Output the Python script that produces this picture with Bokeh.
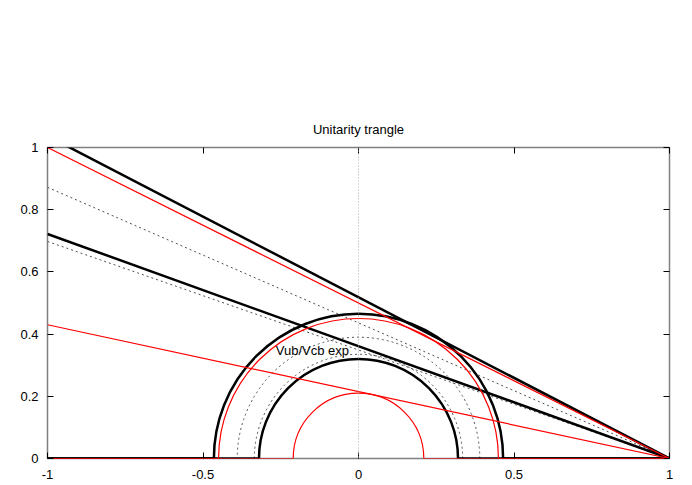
import numpy as np
from bokeh.plotting import figure
from bokeh.models import Range1d, LinearAxis, FixedTicker, Span
from bokeh.embed import file_html
from bokeh.resources import INLINE
from bokeh.core.properties import value

# ---------------- data ----------------
x_ticks = [-1, -0.5, 0, 0.5, 1]
x_tick_labels = ["-1", "-0.5", "0", "0.5", "1"]
y_ticks = [0, 0.2, 0.4, 0.6, 0.8, 1]
y_tick_labels = ["0", "0.2", "0.4", "0.6", "0.8", "1"]

apex_x = 1.0          # every straight line ends at (1, 0)
apex_y = 0.0
# height of each straight line at x = -1
black_line_y_at_m1 = [1.037, 0.722]
red_line_y_at_m1 = [1.0, 0.43]
dotted_line_y_at_m1 = [0.872, 0.698]

# radii of the Vub/Vcb circles centred at (0, 0)
black_radii = [0.465, 0.32]
red_radii = [0.45, 0.21]
dotted_radii = [0.39, 0.335]

label_text = "Vub/Vcb exp"
label_x = [-0.266]
label_y = [0.347]
title_text = "Unitarity trangle"

FONT = "Liberation Sans"
FS = "13px"

p = figure(width=684, height=485,
           x_range=Range1d(-1, 1), y_range=Range1d(0, 1),
           output_backend="svg", toolbar_location=None,
           min_border_left=47, min_border_right=15,
           min_border_top=147, min_border_bottom=27)

p.grid.visible = False
p.outline_line_color = "#808080"
p.outline_line_width = 1.5
p.background_fill_color = "white"
p.border_fill_color = "white"

p.title.text = title_text
p.title.align = "center"
p.title.text_font = FONT
p.title.text_font_size = FS
p.title.text_font_style = "normal"
p.title.text_color = "black"
p.title.standoff = 22


def style_axis(ax, ticks, labels, show_labels, standoff=8):
    ax.ticker = FixedTicker(ticks=ticks, minor_ticks=[])
    ax.major_tick_in = 6
    ax.major_tick_out = 0
    ax.minor_tick_in = 0
    ax.minor_tick_out = 0
    ax.axis_line_color = None
    ax.major_tick_line_color = "black"
    ax.major_tick_line_width = 1
    ax.major_label_text_font = FONT
    ax.major_label_text_color = "black"
    ax.major_label_text_font_size = FS
    if show_labels:
        ax.major_label_overrides = {t: l for t, l in zip(ticks, labels)}
        ax.major_label_standoff = standoff
    else:
        ax.major_label_overrides = {t: "" for t in ticks}
        ax.major_label_standoff = 0


style_axis(p.xaxis[0], x_ticks, x_tick_labels, True, standoff=11)
style_axis(p.yaxis[0], y_ticks, y_tick_labels, True, standoff=9)
ax_top = LinearAxis()
style_axis(ax_top, x_ticks, x_tick_labels, False)
p.add_layout(ax_top, "above")
ax_right = LinearAxis()
style_axis(ax_right, y_ticks, y_tick_labels, False)
p.add_layout(ax_right, "right")

# zero axis (vertical dotted line at x = 0)
p.add_layout(Span(location=0, dimension="height", line_color="#a8a8a8",
                  line_width=1, line_dash="1 2"))

BLACK = dict(line_color="black", line_width=2.5)
RED = dict(line_color="#ff0000", line_width=1.2)
DOT = dict(line_color="#505050", line_width=1, line_dash="2 3")


def draw_set(y_m1, radii, style):
    n = len(y_m1)
    p.segment(x0=[-1] * n, y0=y_m1, x1=[apex_x] * n, y1=[apex_y] * n, **style)
    m = len(radii)
    p.arc(x=[0] * m, y=[0] * m, radius=radii, start_angle=0, end_angle=np.pi,
          **style)
    # the circle curves continue as zero along the x axis outside the circle
    p.segment(x0=[-1] * m + list(radii), y0=[0] * (2 * m),
              x1=[-r for r in radii] + [1] * m, y1=[0] * (2 * m), **style)


draw_set(dotted_line_y_at_m1, dotted_radii, DOT)
draw_set(black_line_y_at_m1, black_radii, BLACK)
draw_set(red_line_y_at_m1, red_radii, RED)

p.text(x=label_x, y=label_y, text=[label_text], text_font=value(FONT),
       text_font_size=FS, text_align="left", text_baseline="middle",
       text_color="black")

open("out.html", "w").write(file_html(p, INLINE))
